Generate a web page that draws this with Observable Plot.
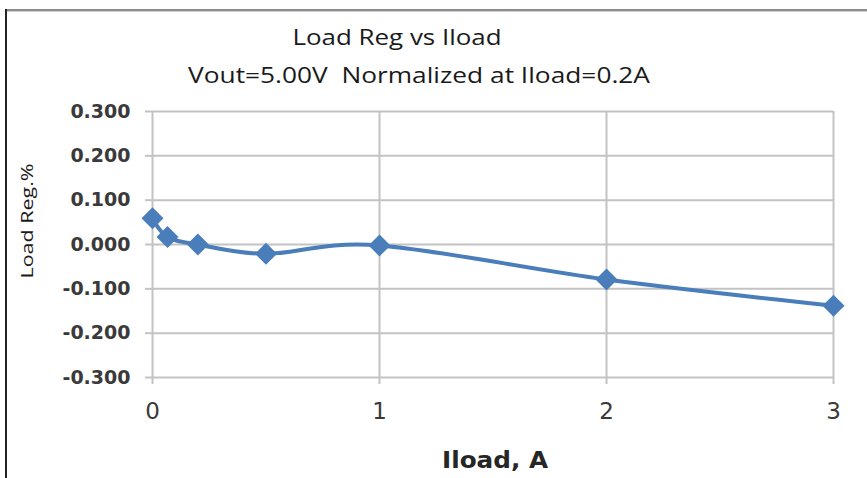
<!DOCTYPE html>
<html>
<head>
<meta charset="utf-8">
<script src="https://cdn.jsdelivr.net/npm/d3@7"></script>
<script src="https://cdn.jsdelivr.net/npm/@observablehq/plot@0.6"></script>
<style>
  html, body { margin: 0; padding: 0; background: #fff; }
  #wrap { position: relative; width: 867px; height: 478px; overflow: hidden; background: #fff; }
  #frameTop { position: absolute; left: 5px; top: 9px; width: 862px; height: 2px; background: #8c8c8c; }
  #frameTop2 { position: absolute; left: 5px; top: 11px; width: 862px; height: 1px; background: #d0d0d0; }
  #frameLeft { position: absolute; left: 5px; top: 9px; width: 2px; height: 469px; background: #222; }
  #chart { position: absolute; left: 0; top: 0; }
  #texts { position: absolute; left: 0; top: 0; pointer-events: none; }
</style>
</head>
<body>
<div id="wrap">
  <div id="chart"></div>
  <svg id="texts" width="867" height="478" xmlns="http://www.w3.org/2000/svg">
    <text x="397" y="45" text-anchor="middle" font-family="Open Sans" font-size="22" fill="#1a1a1a" textLength="209" lengthAdjust="spacingAndGlyphs">Load Reg vs Iload</text>
    <text x="419" y="83" text-anchor="middle" font-family="Open Sans" font-size="21" fill="#1a1a1a" textLength="462" lengthAdjust="spacingAndGlyphs" xml:space="preserve">Vout=5.00V  Normalized at Iload=0.2A</text>
    <text transform="translate(33,221) rotate(-90)" text-anchor="middle" font-family="Open Sans" font-size="16" fill="#1a1a1a" textLength="115" lengthAdjust="spacingAndGlyphs">Load Reg.%</text>
    <text x="495" y="468" text-anchor="middle" font-family="DejaVu Sans" font-weight="bold" font-size="23" fill="#262626" textLength="106" lengthAdjust="spacingAndGlyphs">Iload, A</text>
  </svg>
  <div id="frameTop"></div>
  <div id="frameTop2"></div>
  <div id="frameLeft"></div>
</div>
<script>
// Data
const iload = [0, 0.066, 0.2, 0.5, 1, 2, 3];
const loadReg = [0.059, 0.017, 0.0, -0.021, -0.002, -0.079, -0.138];
const xTicks = [0, 1, 2, 3];
const yTicks = [-0.3, -0.2, -0.1, 0, 0.1, 0.2, 0.3];

const data = iload.map((x, i) => ({x, y: loadReg[i]}));

// Excel-like square diamond marker
const squareDiamond = {
  draw(context, size) {
    const h = Math.sqrt(size / Math.PI);
    context.moveTo(0, -h);
    context.lineTo(h, 0);
    context.lineTo(0, h);
    context.lineTo(-h, 0);
    context.closePath();
  }
};

const blue = "#4a7ebb";
const grid = "#c3c3c3";

const chart = Plot.plot({
  width: 867,
  height: 478,
  marginLeft: 152,
  marginRight: 34,
  marginTop: 111,
  marginBottom: 101,
  style: {background: "transparent", overflow: "visible"},
  x: {domain: [0, 3]},
  y: {domain: [-0.3, 0.3]},
  marks: [
    Plot.gridY(yTicks, {stroke: grid, strokeOpacity: 1, strokeWidth: 2}),
    Plot.gridX(xTicks, {stroke: grid, strokeOpacity: 1, strokeWidth: 2}),
    Plot.axisY(yTicks, {
      tickSize: 7, tickPadding: 15, stroke: grid, strokeWidth: 2, strokeOpacity: 1,
      fill: "#3a3a3a", fontFamily: "DejaVu Sans", fontWeight: "bold", fontSize: 19,
      tickFormat: d => d.toFixed(3), label: null
    }),
    Plot.axisX(xTicks, {
      tickSize: 7, tickPadding: 18, stroke: grid, strokeWidth: 2, strokeOpacity: 1,
      fill: "#3a3a3a", fontFamily: "DejaVu Sans", fontSize: 23,
      tickFormat: d => String(d), label: null
    }),
    Plot.line(data, {x: "x", y: "y", stroke: blue, strokeWidth: 4, curve: "cardinal", tension: 0}),
    Plot.dot(data, {x: "x", y: "y", symbol: squareDiamond, r: 11, fill: blue, stroke: "none"})
  ]
});
document.getElementById("chart").appendChild(chart);
</script>
</body>
</html>
